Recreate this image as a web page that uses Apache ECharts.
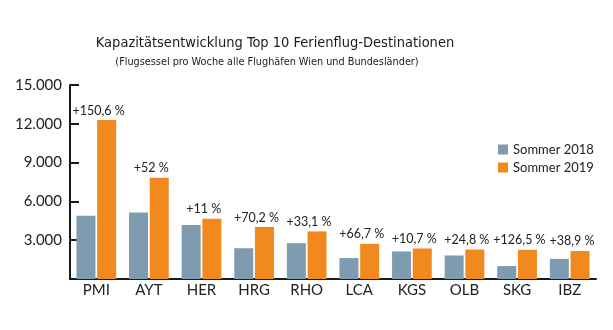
<!DOCTYPE html>
<html><head><meta charset="utf-8">
<script src="https://cdn.jsdelivr.net/npm/echarts@6/dist/echarts.min.js"></script>
<style>html,body{margin:0;padding:0;background:#fff}#c{width:613px;height:330px}</style>
</head><body><div id="c"></div>
<script>
const categories = ['PMI','AYT','HER','HRG','RHO','LCA','KGS','OLB','SKG','IBZ'];
const sommer2018 = [4900, 5150, 4180, 2380, 2770, 1620, 2130, 1820, 1000, 1560];
const sommer2019 = [12290, 7830, 4650, 4020, 3680, 2720, 2360, 2280, 2260, 2170];
const changeLabels = ['+150,6 %','+52 %','+11 %','+70,2 %','+33,1 %','+66,7 %','+10,7 %','+24,8 %','+126,5 %','+38,9 %'];
const yTicks = [0, 3000, 6000, 9000, 12000, 15000];

const FONT = 'Lato';
const chart = echarts.init(document.getElementById('c'), null, {renderer: 'canvas'});
chart.setOption({
  animation: false,
  backgroundColor: '#fff',
  title: [{
    text: 'Kapazitätsentwicklung Top 10 Ferienflug-Destinationen',
    left: 275, top: 36, textAlign: 'center', padding: 0,
    textStyle: {fontFamily: 'DejaVu Sans Condensed', fontSize: 14.5, fontWeight: 'normal', color: '#1a1a1a'}
  }, {
    text: '(Flugsessel pro Woche alle Flughäfen Wien und Bundesländer)',
    left: 267, top: 57, textAlign: 'center', padding: 0,
    textStyle: {fontFamily: 'DejaVu Sans Condensed', fontSize: 10.8, fontWeight: 'normal', color: '#1a1a1a'}
  }],
  legend: {
    orient: 'vertical', left: 493, top: 138,
    itemWidth: 10, itemHeight: 10, itemGap: 5,
    icon: 'rect',
    textStyle: {fontFamily: FONT, fontSize: 13, color: '#222'},
    data: ['Sommer 2018', 'Sommer 2019']
  },
  grid: {left: 70, right: 17, top: 85, bottom: 51, containLabel: false},
  xAxis: {
    type: 'category', data: categories,
    axisLine: {lineStyle: {color: '#1a1a1a', width: 2}},
    axisTick: {show: false},
    axisLabel: {fontFamily: FONT, fontSize: 15, color: '#222', margin: 4}
  },
  yAxis: {
    type: 'value', min: yTicks[0], max: yTicks[yTicks.length-1], interval: yTicks[1]-yTicks[0],
    splitLine: {show: false},
    axisLine: {show: true, lineStyle: {color: '#1a1a1a', width: 2}},
    axisTick: {show: true, inside: true, length: 9, lineStyle: {color: '#1a1a1a', width: 2}},
    axisLabel: {
      showMinLabel: false, fontFamily: FONT, fontSize: 15, color: '#222', margin: 8,
      formatter: v => v === 0 ? '' : v.toLocaleString('de-DE')
    }
  },
  series: [
    {name: 'Sommer 2018', type: 'bar', data: sommer2018, barWidth: 19, barGap: '9%',
     itemStyle: {color: '#7f9bb0'}},
    {name: 'Sommer 2019', type: 'bar', data: sommer2019, barWidth: 19,
     itemStyle: {color: '#f2891e'},
     label: {show: true, position: 'top', distance: 3, offset: [-8, 0],
       fontFamily: FONT, fontSize: 12.5, color: '#222',
       formatter: p => changeLabels[p.dataIndex]}}
  ]
});
</script></body></html>
